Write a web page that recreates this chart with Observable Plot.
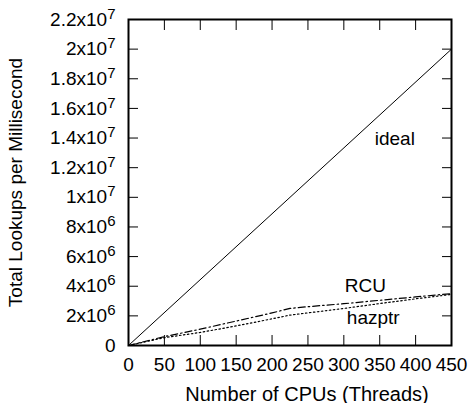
<!DOCTYPE html>
<html>
<head>
<meta charset="utf-8">
<script src="https://cdn.jsdelivr.net/npm/d3@7"></script>
<script src="https://cdn.jsdelivr.net/npm/@observablehq/plot@0.6"></script>
<style>
  html, body { margin: 0; padding: 0; background: #fff; }
</style>
</head>
<body>
<div id="chart"></div>
<script>
// Data
const idealCpus = [0, 450];
const idealValues = [0, 2.0e7];

const rcuCpus = [0, 50, 100, 150, 200, 225, 250, 300, 350, 400, 450];
const rcuValues = [0, 0.6e6, 1.1e6, 1.65e6, 2.2e6, 2.5e6, 2.62e6, 2.82e6, 3.05e6, 3.28e6, 3.5e6];

const hazptrCpus = [0, 50, 100, 150, 200, 225, 250, 300, 350, 400, 450];
const hazptrValues = [0, 0.53e6, 0.88e6, 1.32e6, 1.8e6, 2.05e6, 2.2e6, 2.5e6, 2.83e6, 3.15e6, 3.45e6];

const xTicks = [0, 50, 100, 150, 200, 250, 300, 350, 400, 450];
const yTicks = [0, 2e6, 4e6, 6e6, 8e6, 1e7, 1.2e7, 1.4e7, 1.6e7, 1.8e7, 2e7, 2.2e7];

const xTitle = "Number of CPUs (Threads)";
const yTitle = "Total Lookups per Millisecond";

const seriesLabels = ["ideal", "RCU", "hazptr"];
const labelX = [371, 330, 341];
const labelY = [1.396e7, 4.02e6, 1.83e6];

const ideal = idealCpus.map((x, i) => ({x, y: idealValues[i]}));
const rcu = rcuCpus.map((x, i) => ({x, y: rcuValues[i]}));
const hazptr = hazptrCpus.map((x, i) => ({x, y: hazptrValues[i]}));
const labels = seriesLabels.map((t, i) => ({t, x: labelX[i], y: labelY[i]}));

function sci(v) {
  if (v === 0) return "0";
  const e = Math.floor(Math.log10(v) + 1e-9);
  const m = +(v / Math.pow(10, e)).toFixed(1);
  return m + "x10^" + e;
}

const chart = Plot.plot({
  width: 473,
  height: 403,
  marginLeft: 128,
  marginRight: 22,
  marginTop: 19,
  marginBottom: 58,
  style: {fontFamily: "'Liberation Sans', Arial, sans-serif", fontSize: "19px", background: "#fff", color: "#000"},
  x: {domain: [0, 450]},
  y: {domain: [0, 2.2e7]},
  marks: [
    Plot.axisX({anchor: "bottom", ticks: xTicks, tickSize: 0, tickPadding: 12, tickFormat: d => String(d), label: null}),
    Plot.axisX({anchor: "bottom", ticks: xTicks, tickSize: -10, tickFormat: () => "", label: null}),
    Plot.axisX({anchor: "top", ticks: xTicks, tickSize: -10, tickFormat: () => "", label: null}),
    Plot.axisY({anchor: "left", ticks: yTicks, tickSize: 0, tickPadding: 13, tickFormat: sci,
      label: yTitle, labelAnchor: "center", labelOffset: 120, labelArrow: "none"}),
    Plot.axisY({anchor: "left", ticks: yTicks, tickSize: -10, tickFormat: () => "", label: null}),
    Plot.axisY({anchor: "right", ticks: yTicks, tickSize: -10, tickFormat: () => "", label: null}),
    Plot.text([xTitle], {frameAnchor: "bottom", dx: 17, dy: 55, fontSize: 20, fill: "#000"}),
    Plot.line(ideal, {x: "x", y: "y", stroke: "#000", strokeWidth: 1}),
    Plot.line(rcu, {x: "x", y: "y", stroke: "#000", strokeWidth: 1.2, strokeDasharray: "7,3,1.5,3"}),
    Plot.line(hazptr, {x: "x", y: "y", stroke: "#000", strokeWidth: 1.2, strokeDasharray: "1.5,2.5"}),
    Plot.text(labels, {x: "x", y: "y", text: "t", fill: "#000", fontSize: 19}),
    Plot.frame({stroke: "#000", strokeWidth: 2})
  ]
});

document.getElementById("chart").appendChild(chart);

// Render the exponent of y tick labels as superscripts
d3.select(chart).selectAll('g[aria-label="y-axis tick label"] text').each(function() {
  const s = this.textContent;
  const i = s.indexOf("^");
  if (i < 0) return;
  const base = s.slice(0, i), exp = s.slice(i + 1);
  const t = d3.select(this);
  t.text(base);
  t.append("tspan").attr("dy", "-7").attr("font-size", "15px").text(exp);
});
</script>
</body>
</html>
